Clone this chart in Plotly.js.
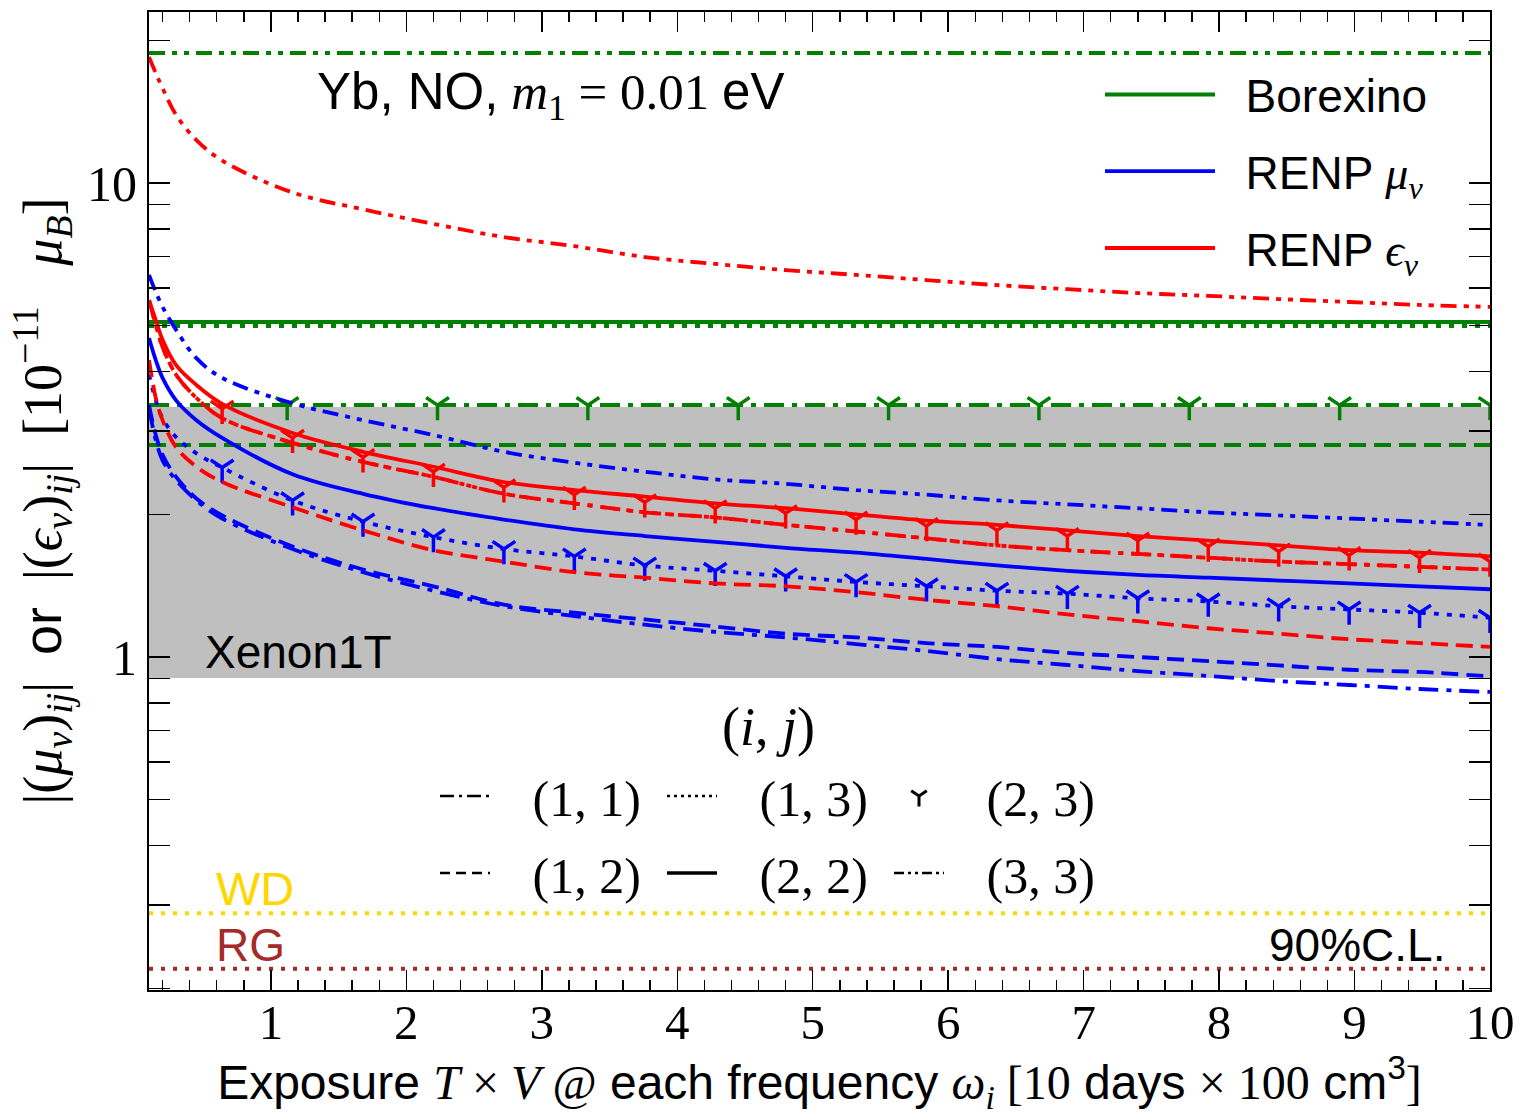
<!DOCTYPE html>
<html><head><meta charset="utf-8">
<script src="https://cdn.plot.ly/plotly-3.0.1.min.js"></script>
<style>body{margin:0;background:#fff}</style>
</head><body>
<div id="chart" style="width:1519px;height:1116px"></div>
<script>
// ---- data ----
const xs = [0.1,0.15,0.2,0.3,0.45,0.64,1.16,1.68,2.2,2.72,3.24,3.76,4.28,4.8,5.32,5.84,6.36,6.88,7.4,7.92,8.44,8.96,9.48,10];
const markX = [0.64,1.16,1.68,2.2,2.72,3.24,3.76,4.28,4.8,5.32,5.84,6.36,6.88,7.4,7.92,8.44,8.96,9.48,10];
const greenMarkX = [1.12,2.23,3.34,4.45,5.56,6.67,7.78,8.89,10];
const xSpan = [0.1, 10];

// RENP mu_nu (blue)
const mu11 = [3.35,2.87,2.60,2.36,2.14,1.96,1.69,1.51,1.38,1.28,1.22,1.17,1.13,1.10,1.065,1.03,0.99,0.962,0.934,0.912,0.89,0.873,0.856,0.844];
const mu12 = [3.40,2.94,2.67,2.40,2.16,1.99,1.71,1.53,1.41,1.29,1.24,1.20,1.16,1.12,1.10,1.07,1.05,1.02,1.00,0.98,0.96,0.94,0.93,0.91];
const mu13 = [3.94,3.48,3.19,2.91,2.69,2.51,2.14,1.93,1.79,1.69,1.63,1.56,1.52,1.48,1.44,1.41,1.38,1.36,1.33,1.31,1.28,1.26,1.24,1.21];
const mu22 = [4.71,4.23,3.88,3.48,3.16,2.90,2.43,2.21,2.06,1.95,1.86,1.80,1.75,1.70,1.66,1.61,1.56,1.52,1.49,1.47,1.45,1.43,1.41,1.39];
const mu23 = [2.51,2.14,1.93,1.79,1.69,1.63,1.56,1.52,1.48,1.44,1.41,1.38,1.36,1.33,1.31,1.28,1.26,1.24,1.21];
const mu33 = [6.40,5.89,5.48,4.90,4.27,3.88,3.43,3.16,2.94,2.71,2.57,2.46,2.37,2.32,2.25,2.20,2.14,2.10,2.06,2.02,1.99,1.96,1.93,1.90];

// RENP eps_nu (red)
const eps11 = [5.66,5.02,4.51,3.94,3.52,3.19,2.83,2.58,2.40,2.21,2.11,2.02,1.97,1.90,1.84,1.78,1.72,1.68,1.65,1.62,1.59,1.57,1.55,1.53];
const eps12 = [4.23,3.52,3.16,2.77,2.52,2.34,2.07,1.85,1.68,1.59,1.51,1.47,1.43,1.41,1.37,1.32,1.28,1.23,1.19,1.15,1.12,1.09,1.07,1.05];
const eps13 = [5.66,5.02,4.51,3.94,3.52,3.19,2.83,2.58,2.40,2.21,2.11,2.02,1.97,1.90,1.84,1.78,1.72,1.68,1.65,1.62,1.59,1.57,1.55,1.53];
const eps22 = [5.66,5.14,4.67,4.13,3.75,3.42,2.97,2.71,2.52,2.34,2.25,2.18,2.11,2.06,2.00,1.94,1.90,1.85,1.80,1.76,1.72,1.68,1.66,1.63];
const eps23 = [3.34,2.90,2.64,2.46,2.28,2.20,2.12,2.06,2.01,1.95,1.89,1.85,1.80,1.76,1.71,1.67,1.64,1.62,1.59];
const eps33 = [18.45,17.06,15.86,13.92,12.32,11.15,9.55,8.80,8.20,7.69,7.36,6.98,6.75,6.55,6.40,6.24,6.09,5.97,5.86,5.78,5.69,5.61,5.53,5.48];

// Borexino (green) levels for (1,1),(1,2),(1,3),(2,2),(2,3),(3,3)
const borexinoPairs = ['11','12','13','22','23','33'];
const borexinoLevels = [3.40, 2.80, 4.99, 5.09, 3.40, 18.8];

// other bounds
const xenonBand = [0.903, 3.37];
const wdLimit = [0.288];
const rgLimit = [0.22];

const tickX = [1,2,3,4,5,6,7,8,9,10];
const tickXText = ['1','2','3','4','5','6','7','8','9','10'];
const tickY = [1,10];
const tickYText = ['1','10'];
const minorY = [0.2,0.3,0.4,0.5,0.6,0.7,0.8,0.9,2,3,4,5,6,7,8,9,20];

const legendPairs = ['(1, 1)','(1, 3)','(2, 3)','(1, 2)','(2, 2)','(3, 3)'];

// ---- styles ----
const DASH = {'11':'20px,8px,5px,8px','12':'17px,8px','13':'5px,8px','22':'solid','33':'16px,7px,5px,7px,5px,7px'};
const LDASH = {'11':'14px,5px,3px,5px','12':'10px,6px','13':'3px,4px','22':'solid','33':'10px,4px,3px,4px,3px,4px'};
const GREEN = '#008000', BLUE = '#0000ff', RED = '#ff0000';
const SERIF = 'Liberation Serif, DejaVu Serif, serif';
const SANS = 'Liberation Sans, Arial, sans-serif';
const NB = '\u00a0';

const traces = [];
// Xenon1T band
traces.push({x:[xSpan[0],xSpan[1],xSpan[1],xSpan[0]], y:[xenonBand[0],xenonBand[0],xenonBand[1],xenonBand[1]],
  mode:'lines', fill:'toself', fillcolor:'#bfbfbf', line:{width:0}, showlegend:false, hoverinfo:'skip'});
// WD, RG
traces.push({x:xSpan, y:[wdLimit[0],wdLimit[0]], mode:'lines', line:{color:'#ffd700', width:4, dash:'4px,8px'}, showlegend:false});
traces.push({x:xSpan, y:[rgLimit[0],rgLimit[0]], mode:'lines', line:{color:'#a52a2a', width:4, dash:'4px,8px'}, showlegend:false});

// Borexino
borexinoPairs.forEach((p,i)=>{
  const lv = borexinoLevels[i];
  if (p === '23') {
    traces.push({x:greenMarkX, y:greenMarkX.map(()=>lv), mode:'markers',
      marker:{symbol:'y-down', size:19, color:GREEN, line:{color:GREEN, width:3.5}}, showlegend:false});
  } else {
    const t = {x:xSpan, y:[lv,lv], mode:'lines', line:{color:GREEN, width:4, dash:DASH[p]}, showlegend:false};
    if (p === '22') { t.showlegend = true; t.name = NB+NB+'Borexino'; t.legend = 'legend'; t.legendgroup='g1'; }
    traces.push(t);
  }
});

function curves(set, color, label, grp) {
  const order = ['11','12','13','33','22'];
  order.forEach(p=>{
    const t = {x:xs, y:set[p], mode:'lines', line:{color:color, width:3.8, dash:DASH[p], shape:'spline', smoothing:1}, showlegend:false};
    if (p === '22') { t.showlegend = true; t.name = label; t.legend='legend'; t.legendgroup=grp; }
    traces.push(t);
  });
  traces.push({x:markX, y:set['23'], mode:'markers',
    marker:{symbol:'y-down', size:19, color:color, line:{color:color, width:3.5}}, showlegend:false});
}
curves({'11':mu11,'12':mu12,'13':mu13,'22':mu22,'23':mu23,'33':mu33}, BLUE,
  NB+NB+'RENP <span style="font-family:Liberation Serif"><i>μ</i><sub><i>ν</i></sub></span>', 'g2');
curves({'11':eps11,'12':eps12,'13':eps13,'22':eps22,'23':eps23,'33':eps33}, RED,
  NB+NB+'RENP <span style="font-family:Liberation Serif"><i>ϵ</i><sub><i>ν</i></sub></span>', 'g3');

// linestyle legend (black keys)
const legKeys = ['11','13','23','12','22','33'];
legKeys.forEach((p,i)=>{
  const row = i < 3 ? 'legend2' : 'legend3';
  const name = NB+NB+NB + legendPairs[i];
  if (p === '23') {
    traces.push({x:[null], y:[null], mode:'markers', name:name, legend:row,
      marker:{symbol:'y-down', size:13, color:'#000', line:{color:'#000', width:3}}});
  } else {
    traces.push({x:[null], y:[null], mode:'lines', name:name, legend:row,
      line:{color:'#000', width: p==='22'?3.5:2.5, dash:LDASH[p]}});
  }
});

const PL = 149, PR = 1490, PT = 12, PB = 990;
const px = v => (v - PL) / (PR - PL);
const py = v => (PB - v) / (PB - PT);
const S = t => '<span style="font-family:Liberation Serif">' + t + '</span>';

const layout = {
  width:1519, height:1116,
  margin:{l:PL, r:1519-PR, t:PT, b:1116-PB},
  paper_bgcolor:'#fff', plot_bgcolor:'#fff',
  showlegend:true,
  font:{family:SERIF, color:'#000', size:42},
  xaxis:{type:'linear', range:[xSpan[0], xSpan[1]], tickmode:'array', tickvals:tickX, ticktext:tickXText,
    ticks:'inside', ticklen:20, tickwidth:1.5, tickcolor:'#000', showline:true, linecolor:'#000', linewidth:2,
    mirror:'ticks', showgrid:false, zeroline:false, tickfont:{family:SERIF, size:49}, ticklabelstandoff:-12,
    minor:{dtick:0.2, tick0:0, ticks:'inside', ticklen:10, tickwidth:1.5, tickcolor:'#000', showgrid:false},
    title:{text:'Exposure ' + S('<i>T</i>' + NB + '×' + NB + '<i>V</i>' + NB + '@') + ' each frequency ' + S('<i>ω<sub>i</sub></i>' + NB + '[10') +
      ' days ' + S('×' + NB + '100') + ' cm<sup>3</sup>' + S(']'),
      font:{family:SANS, size:48}, standoff:20}},
  yaxis:{type:'log', range:[-0.7025, 1.3608], tickmode:'array', tickvals:tickY, ticktext:tickYText,
    ticks:'inside', ticklen:21, tickwidth:1.5, tickcolor:'#000', showline:true, linecolor:'#000', linewidth:2,
    mirror:'ticks', showgrid:false, zeroline:false, tickfont:{family:SERIF, size:50},
    minor:{tickvals:minorY, ticks:'inside', ticklen:21, tickwidth:1.5, tickcolor:'#000', showgrid:false},
    title:{text:'|(<i>μ<sub>ν</sub></i>)<sub><i>ij</i></sub>|' + NB + NB + '<span style="font-family:Liberation Sans">or</span>' + NB + NB +
      '|(<i>ϵ<sub>ν</sub></i>)<sub><i>ij</i></sub>|' + NB + NB + '[10<sup>−11</sup>' + NB + NB + NB + '<i>μ<sub>B</sub></i>]',
      font:{family:SERIF, size:54}, standoff:8}},
  legend:{x:px(1100), y:py(58), xanchor:'left', yanchor:'top', bgcolor:'rgba(0,0,0,0)', borderwidth:0,
    font:{family:SANS, size:46}, itemwidth:110, traceorder:'grouped', tracegroupgap:14},
  legend2:{orientation:'h', x:px(435), y:py(796), xanchor:'left', yanchor:'middle', bgcolor:'rgba(0,0,0,0)',
    font:{family:SERIF, size:50}, itemwidth:50, entrywidth:162, entrywidthmode:'pixels'},
  legend3:{orientation:'h', x:px(435), y:py(873), xanchor:'left', yanchor:'middle', bgcolor:'rgba(0,0,0,0)',
    font:{family:SERIF, size:50}, itemwidth:50, entrywidth:162, entrywidthmode:'pixels'},
  annotations:[
    {xref:'paper', yref:'paper', x:px(550), y:py(95), xanchor:'center', yanchor:'middle', showarrow:false,
     text:'<span style="font-family:Liberation Sans">Yb, NO,</span> <i>m</i><sub>1</sub>' + NB + '=' + NB + '0.01 <span style="font-family:Liberation Sans">eV</span>',
     font:{family:SERIF, size:51}},
    {xref:'paper', yref:'paper', x:px(203), y:py(652), xanchor:'left', yanchor:'middle', showarrow:false,
     text:'Xenon1T', font:{family:SANS, size:46}},
    {xref:'paper', yref:'paper', x:px(768), y:py(727), xanchor:'center', yanchor:'middle', showarrow:false,
     text:'(<i>i</i>, <i>j</i>)', font:{family:SERIF, size:54}},
    {xref:'paper', yref:'paper', x:px(214), y:py(888), xanchor:'left', yanchor:'middle', showarrow:false,
     text:'WD', font:{family:SANS, size:47, color:'#ffd700'}},
    {xref:'paper', yref:'paper', x:px(214), y:py(945), xanchor:'left', yanchor:'middle', showarrow:false,
     text:'RG', font:{family:SANS, size:46, color:'#a52a2a'}},
    {xref:'paper', yref:'paper', x:px(1447), y:py(945), xanchor:'right', yanchor:'middle', showarrow:false,
     text:'90%C.L.', font:{family:SANS, size:46}}
  ]
};

Plotly.newPlot('chart', traces, layout, {displayModeBar:false, staticPlot:true});
</script>
</body></html>
